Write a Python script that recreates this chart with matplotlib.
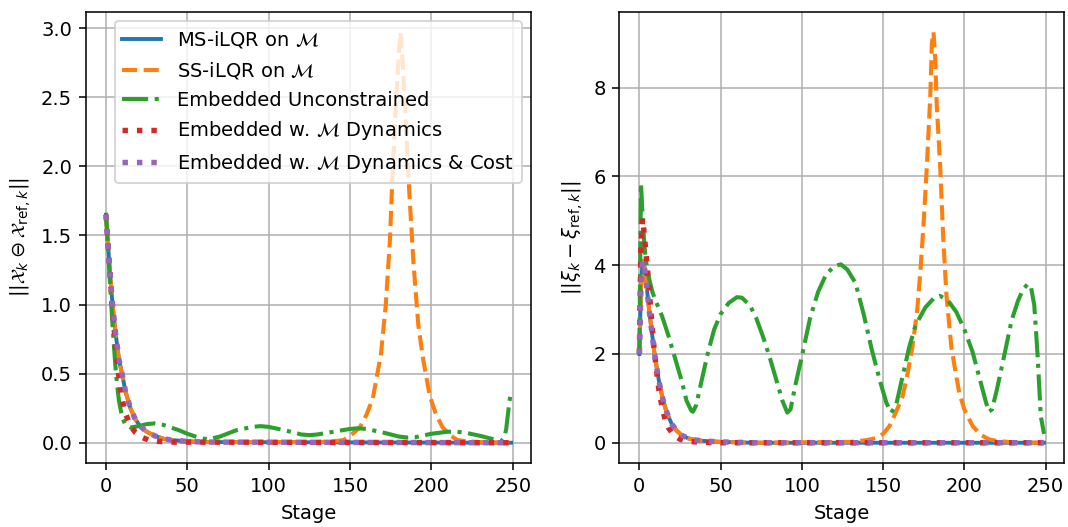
import numpy as np
import matplotlib
matplotlib.use("Agg")
import matplotlib.pyplot as plt

# ---- left panel: ||X_k (-) X_ref,k|| ----
xl_ms = [0, 2, 4, 6, 8, 10, 12, 15, 18, 21, 25, 30, 35, 40, 50, 60, 249]
yl_ms = [1.65, 1.30, 1.00, 0.78, 0.60, 0.49, 0.37, 0.25, 0.17, 0.12, 0.08, 0.05, 0.03, 0.02, 0.01, 0.005, 0.0]

xl_ss = [0, 2, 4, 6, 8, 10, 12, 15, 18, 21, 25, 30, 35, 40, 50, 60, 130, 140, 146, 150, 156, 160, 164, 169, 172,
         174.5, 176, 178, 180, 181, 182, 184, 186, 189, 192, 195, 199, 203, 207, 212, 216, 222, 230, 249]
yl_ss = [1.65, 1.30, 1.00, 0.78, 0.60, 0.49, 0.37, 0.25, 0.17, 0.12, 0.08, 0.05, 0.03, 0.02, 0.01, 0.005, 0.005,
         0.01, 0.02, 0.05, 0.11, 0.2, 0.32, 0.64, 1.0, 1.46, 1.9, 2.4, 2.82, 2.97, 2.82, 2.4, 1.9, 1.3, 0.85,
         0.6, 0.34, 0.2, 0.11, 0.05, 0.02, 0.01, 0.005, 0.0]

xl_emb = [0, 1, 2, 3, 4, 5, 6, 7, 8, 10, 12, 15, 20, 25, 30, 35, 40, 45, 50, 55, 60, 63, 70, 80, 90, 95, 100,
          110, 120, 125, 130, 140, 150, 155, 160, 170, 180, 185, 190, 200, 210, 215, 220, 230, 240, 243, 245,
          246, 247, 248, 249]
yl_emb = [1.65, 1.45, 1.25, 1.05, 0.85, 0.68, 0.52, 0.40, 0.30, 0.18, 0.13, 0.11, 0.12, 0.135, 0.14, 0.13,
          0.11, 0.09, 0.065, 0.045, 0.03, 0.025, 0.045, 0.09, 0.115, 0.12, 0.115, 0.09, 0.06, 0.055, 0.06,
          0.08, 0.10, 0.105, 0.10, 0.075, 0.045, 0.038, 0.04, 0.065, 0.08, 0.08, 0.075, 0.05, 0.02, 0.012,
          0.04, 0.1, 0.2, 0.3, 0.37]

xl_dyn = [0, 2, 4, 6, 8, 10, 12, 15, 18, 22, 26, 32, 40, 249]
yl_dyn = [1.65, 1.30, 0.98, 0.68, 0.47, 0.31, 0.21, 0.125, 0.075, 0.04, 0.02, 0.01, 0.005, 0.0]

xl_cost = [0, 2, 4, 6, 8, 10, 12, 15, 18, 21, 25, 30, 35, 40, 50, 60, 249]
yl_cost = [1.65, 1.30, 1.00, 0.78, 0.60, 0.49, 0.37, 0.25, 0.17, 0.12, 0.08, 0.05, 0.03, 0.02, 0.01, 0.005, 0.0]

# ---- right panel: ||xi_k - xi_ref,k|| ----
xr_ms = [0, 1, 2, 3, 4, 5, 6, 7, 8, 9, 10, 12, 14, 16, 18, 20, 23, 26, 30, 35, 40, 50, 60, 70, 249]
yr_ms = [2.0, 3.5, 4.1, 4.0, 3.7, 3.35, 3.0, 2.7, 2.4, 2.1, 1.85, 1.4, 1.05, 0.78, 0.58, 0.42, 0.27, 0.17,
         0.1, 0.06, 0.04, 0.02, 0.01, 0.0, 0.0]

xr_ss = [0, 1, 2, 3, 4, 5, 6, 7, 8, 9, 10, 12, 14, 16, 18, 20, 23, 26, 30, 35, 40, 50, 60, 70, 130, 140, 146,
         150, 154, 158, 162, 165, 168, 171, 173, 175, 177, 179, 180, 181, 182, 183, 185, 187, 189, 192, 195,
         197, 200, 205, 210, 215, 220, 230, 249]
yr_ss = [2.0, 3.5, 4.1, 4.0, 3.7, 3.35, 3.0, 2.7, 2.4, 2.1, 1.85, 1.4, 1.05, 0.78, 0.58, 0.42, 0.27, 0.17,
         0.1, 0.06, 0.04, 0.02, 0.01, 0.0, 0.02, 0.06, 0.11, 0.2, 0.38, 0.7, 1.05, 1.55, 2.15, 3.0, 3.9, 5.0,
         6.3, 7.8, 9.0, 9.25, 8.7, 7.6, 6.3, 4.6, 3.3, 2.15, 1.5, 1.1, 0.75, 0.38, 0.18, 0.08, 0.04, 0.01, 0.0]

xr_emb = [0, 1, 2, 3, 4, 6, 8, 10, 14, 18, 22, 26, 29, 32, 33, 35, 38, 42, 46, 50, 55, 60, 63, 68, 72, 76,
          80, 84, 88, 91, 93, 96, 100, 105, 110, 115, 120, 124, 128, 133, 138, 143, 148, 152, 155, 158, 162,
          166, 170, 176, 181, 185, 190, 195, 200, 205, 209, 213, 215, 217, 220, 225, 229, 233, 236, 239, 241,
          243, 245, 247, 249]
yr_emb = [2.0, 5.85, 5.1, 4.5, 4.1, 3.7, 3.4, 3.2, 2.85, 2.4, 1.9, 1.4, 0.95, 0.72, 0.7, 0.85, 1.35, 2.0,
          2.55, 2.9, 3.15, 3.28, 3.27, 3.1, 2.8, 2.4, 1.95, 1.45, 0.95, 0.68, 0.75, 1.3, 1.95, 2.8, 3.4, 3.8,
          3.98, 4.02, 3.9, 3.6, 2.9, 2.1, 1.4, 0.9, 0.68, 0.85, 1.5, 2.15, 2.65, 3.05, 3.25, 3.31, 3.2, 2.95,
          2.55, 2.05, 1.5, 0.95, 0.7, 0.75, 1.2, 2.05, 2.75, 3.2, 3.45, 3.58, 3.5, 3.1, 2.0, 0.6, 0.2]

xr_dyn = [0, 1, 2, 3, 4, 5, 6, 7, 8, 9, 10, 12, 14, 16, 18, 21, 25, 30, 40, 50, 249]
yr_dyn = [2.0, 4.5, 5.05, 4.7, 4.3, 3.9, 3.45, 3.0, 2.55, 2.15, 1.8, 1.2, 0.8, 0.5, 0.33, 0.18, 0.08, 0.03,
          0.01, 0.0, 0.0]

xr_cost = [0, 1, 2, 3, 4, 5, 6, 7, 8, 9, 10, 12, 14, 16, 18, 20, 23, 26, 30, 35, 40, 50, 60, 70, 249]
yr_cost = [2.0, 3.5, 4.1, 4.0, 3.7, 3.35, 3.0, 2.7, 2.4, 2.1, 1.85, 1.4, 1.05, 0.78, 0.58, 0.42, 0.27, 0.17,
           0.1, 0.06, 0.04, 0.02, 0.01, 0.0, 0.0]

labels = [r"MS-iLQR on $\mathcal{M}$", r"SS-iLQR on $\mathcal{M}$", "Embedded Unconstrained",
          r"Embedded w. $\mathcal{M}$ Dynamics", r"Embedded w. $\mathcal{M}$ Dynamics & Cost"]

DPI = 140
fig = plt.figure(figsize=(1068 / DPI, 527 / DPI), dpi=DPI)
ax1 = fig.add_axes([0.0803, 0.1209, 0.4172, 0.8569])
ax2 = fig.add_axes([0.5797, 0.1209, 0.4168, 0.8569])

def draw(ax, series):
    (xa, ya), (xb, yb), (xc, yc), (xd, yd), (xe, ye) = series
    ax.plot(xa, ya, "-", color="C0", lw=2.0, label=labels[0])
    ax.plot(xb, yb, "--", color="C1", lw=2.1, label=labels[1])
    ax.plot(xc, yc, "-.", color="C2", lw=2.1, label=labels[2])
    ax.plot(xd, yd, ":", color="C3", lw=2.8, label=labels[3])
    ax.plot(xe, ye, ":", color="C4", lw=2.8, label=labels[4])
    ax.grid(True)
    ax.set_xlabel("Stage")

draw(ax1, [(xl_ms, yl_ms), (xl_ss, yl_ss), (xl_emb, yl_emb), (xl_dyn, yl_dyn), (xl_cost, yl_cost)])
draw(ax2, [(xr_ms, yr_ms), (xr_ss, yr_ss), (xr_emb, yr_emb), (xr_dyn, yr_dyn), (xr_cost, yr_cost)])

ax1.set_ylabel(r"$||\mathcal{X}_k \ominus \mathcal{X}_{\mathrm{ref},k}||$")
ax2.set_ylabel(r"$||\xi_k - \xi_{\mathrm{ref},k}||$")
ax1.legend(loc="upper right")

fig.savefig("out.png", dpi=DPI)
